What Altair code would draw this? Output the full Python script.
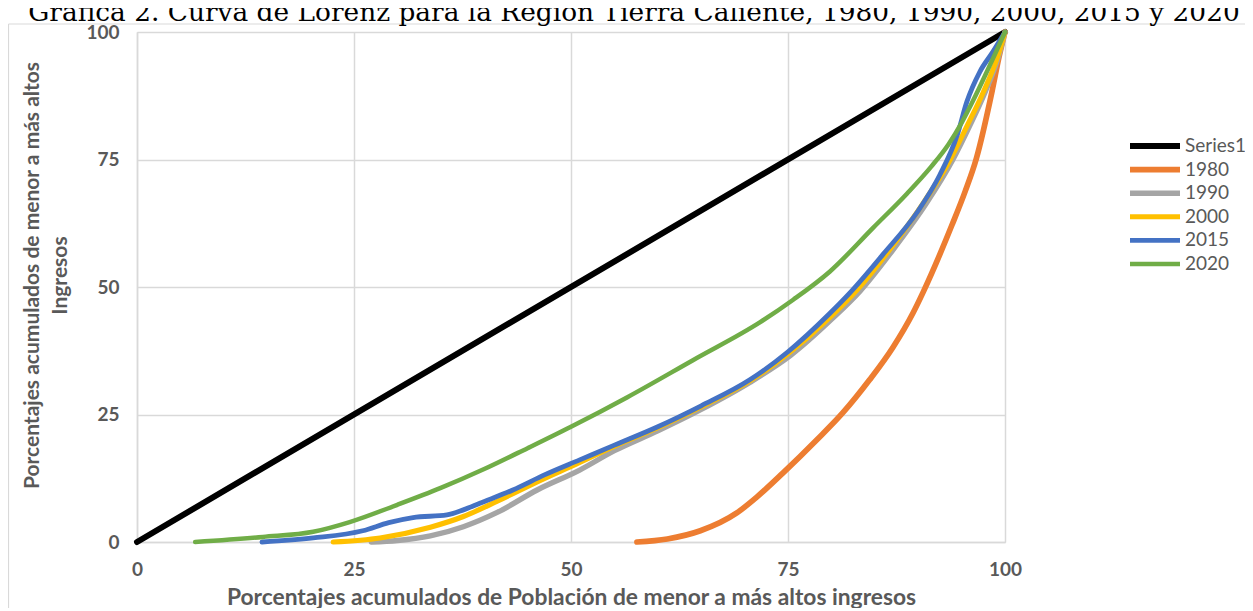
import altair as alt
import pandas as pd

# ---------------- data ----------------
series_names = ["Series1", "1980", "1990", "2000", "2015", "2020"]

x_s1 = [0, 100]
y_s1 = [0, 100]

x_1980 = [57.6, 61.1, 64.9, 69.1, 71.4, 74.4, 78.3, 81.3, 84.4, 87.1, 89.4, 90.6, 93.9, 95.4, 96.7, 98.5, 99.3, 100]
y_1980 = [0.0, 0.6, 2.2, 5.7, 8.8, 13.5, 20.0, 25.3, 31.8, 38.2, 44.9, 49.1, 62.2, 68.7, 75.2, 88.3, 95.0, 100]

x_1990 = [27.0, 30.0, 33.8, 37.6, 41.5, 46.1, 51.0, 55.0, 60.0, 65.0, 70.6, 75.3, 80.1, 83.3, 87.1, 90.9, 94.0, 95.9, 97.7, 99.2, 100]
y_1990 = [0.0, 0.3, 1.2, 3.0, 5.8, 10.2, 14.1, 17.9, 21.8, 26.0, 31.3, 36.6, 43.8, 49.2, 57.3, 66.3, 75.0, 81.5, 88.2, 94.9, 100]

x_2000 = [22.6, 28.0, 33.8, 37.6, 41.5, 46.1, 51.0, 55.0, 60.0, 65.0, 70.6, 75.0, 79.8, 83.0, 86.8, 90.6, 93.7, 95.6, 97.5, 99.1, 100]
y_2000 = [0.0, 0.8, 2.9, 5.0, 8.0, 11.8, 15.6, 18.8, 22.4, 26.5, 31.6, 36.9, 44.0, 49.5, 57.5, 66.5, 75.0, 81.5, 88.2, 94.9, 100]

x_2015 = [14.4, 20.3, 26.0, 29.0, 31.8, 35.7, 37.6, 39.5, 43.3, 47.0, 51.0, 55.0, 60.0, 65.0, 70.6, 75.0, 79.8, 82.1, 85.9, 89.9, 92.5, 94.5, 95.6, 97.1, 98.6, 100]
y_2015 = [0.0, 0.8, 2.2, 3.8, 4.8, 5.3, 6.3, 7.6, 10.2, 13.2, 16.1, 19.0, 22.6, 26.7, 31.8, 37.3, 44.8, 48.8, 56.3, 64.7, 72.0, 79.8, 86.3, 92.2, 96.1, 100]

x_2020 = [6.7, 14.5, 20.3, 24.5, 30.0, 35.0, 40.0, 45.0, 50.0, 56.5, 64.1, 71.8, 75.6, 79.8, 84.8, 88.7, 91.5, 93.5, 95.0, 96.4, 97.8, 99.1, 100]
y_2020 = [0.0, 1.0, 2.0, 3.9, 7.3, 10.6, 14.3, 18.4, 22.6, 28.4, 35.7, 43.1, 47.5, 53.0, 61.6, 68.3, 73.6, 78.0, 82.2, 86.8, 91.8, 96.6, 100]

axis_ticks = [0, 25, 50, 75, 100]

series_x = [x_s1, x_1980, x_1990, x_2000, x_2015, x_2020]
series_y = [y_s1, y_1980, y_1990, y_2000, y_2015, y_2020]

rows = []
for name, xs, ys in zip(series_names, series_x, series_y):
    for i, (a, b) in enumerate(zip(xs, ys)):
        rows.append({"serie": name, "x": a, "y": b, "i": i})
df = pd.DataFrame(rows)

# ---------------- styles ----------------
colors = ["#000000", "#ED7D31", "#A5A5A5", "#FFC000", "#4472C4", "#70AD47"]
widths = [6, 4.5, 4.5, 2.5, 4.5, 4.5]
FONT = "Lato"
GRAY = "#595959"
GRID = "#d9d9d9"

title_text = "Gráfica 2. Curva de Lorenz para la Región Tierra Caliente, 1980, 1990, 2000, 2015 y 2020"

legend_opts = dict(title=None, orient="none", legendX=990, legendY=104,
                   symbolType="stroke", symbolSize=2500, clipHeight=20,
                   labelFont=FONT, labelFontSize=19, labelColor=GRAY,
                   labelOffset=2, rowPadding=3.6, padding=0)

lines = alt.Chart(df).mark_line(
    interpolate="monotone", strokeCap="round", strokeJoin="round"
).encode(
    x=alt.X("x:Q",
            scale=alt.Scale(domain=[0, 100], nice=False, zero=False),
            axis=alt.Axis(values=axis_ticks, title="Porcentajes acumulados de Población de menor a más altos ingresos",
                          grid=True, gridColor=GRID, gridWidth=1.5,
                          domainColor=GRID, domainWidth=1.5, ticks=False,
                          labelFont=FONT, labelFontSize=19, labelFontWeight="bold", labelColor=GRAY,
                          labelPadding=18, labelFlush=False,
                          titleFont=FONT, titleFontSize=22.8, titleFontWeight="bold", titleColor=GRAY,
                          titleY=44, titleBaseline="top")),
    y=alt.Y("y:Q",
            scale=alt.Scale(domain=[0, 100], nice=False, zero=False),
            axis=alt.Axis(values=axis_ticks, title=["Porcentajes acumulados de menor a más altos", "Ingresos"],
                          grid=True, gridColor=GRID, gridWidth=1.5,
                          domainColor=GRID, domainWidth=1.5, ticks=False,
                          labelFont=FONT, labelFontSize=19, labelFontWeight="bold", labelColor=GRAY,
                          labelPadding=18, labelFlush=False,
                          titleFont=FONT, titleFontSize=21, titleFontWeight="bold", titleColor=GRAY,
                          titleAngle=270, titleX=-116, titleY=243, titleAlign="center",
                          titleBaseline="top", titleLineHeight=28)),
    color=alt.Color("serie:N",
                    scale=alt.Scale(domain=series_names, range=colors),
                    legend=alt.Legend(**legend_opts)),
    strokeWidth=alt.StrokeWidth("serie:N",
                                scale=alt.Scale(domain=series_names, range=widths),
                                legend=alt.Legend(**legend_opts)),
    order=alt.Order("i:Q"),
)

# light border of the chart area (top and left edges)
frame_df = pd.DataFrame({"k": [0]})
border_top = alt.Chart(frame_df).mark_rule(color=GRID, strokeWidth=1.2).encode(
    x=alt.value(-128.5), x2=alt.value(1110), y=alt.value(-8))
border_left = alt.Chart(frame_df).mark_rule(color=GRID, strokeWidth=1.2).encode(
    x=alt.value(-128.5), y=alt.value(-8), y2=alt.value(600))

chart = alt.layer(border_top, border_left, lines).properties(
    width=868,
    height=510,
    title=alt.TitleParams(text=title_text, font="DejaVu Serif", fontSize=26.4, fontWeight="normal",
                          color="black", anchor="middle", frame="group", dx=63, offset=0, dy=3),
    autosize=alt.AutoSizeParams(type="none"),
    padding={"left": 129, "top": 24, "right": 240, "bottom": 66},
).configure_view(stroke=None).configure(background="white")

chart.save("out.html", embed_options={"renderer": "svg", "actions": False})
